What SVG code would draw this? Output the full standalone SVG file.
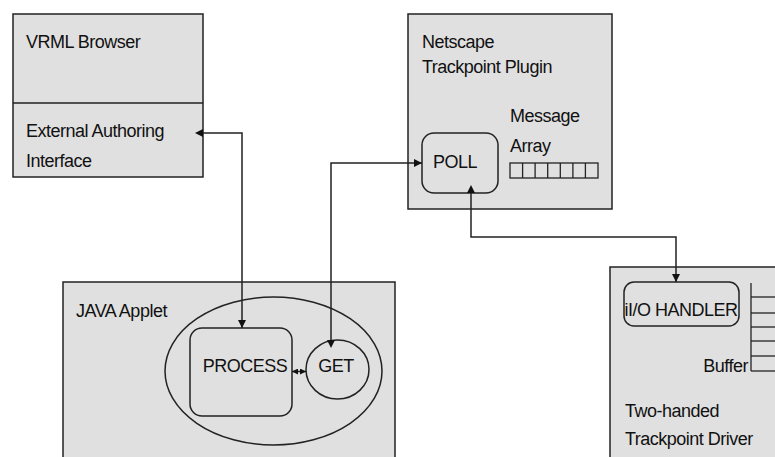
<svg xmlns="http://www.w3.org/2000/svg" width="775" height="457" viewBox="0 0 775 457">
<style>
.box{fill:#e0e0e0;stroke:#222;stroke-width:1.5}
.in{fill:none;stroke:#222;stroke-width:1.5}
.ln{fill:none;stroke:#222;stroke-width:1.3}
.cn{fill:none;stroke:#222;stroke-width:1.5}
text{font-family:"Liberation Sans",Arial,sans-serif;font-size:18px;fill:#111;letter-spacing:-0.5px}
</style>
<defs>
<marker id="ah" viewBox="0 0 10 10" refX="10" refY="5" markerWidth="8" markerHeight="8" markerUnits="userSpaceOnUse" orient="auto">
<path d="M0,0 L10,5 L0,10 z" fill="#111"/>
</marker>
<marker id="as" viewBox="0 0 10 10" refX="0" refY="5" markerWidth="8" markerHeight="8" markerUnits="userSpaceOnUse" orient="auto-start-reverse">
<path d="M0,0 L10,5 L0,10 z" fill="#111"/>
</marker>
<marker id="ah2" viewBox="0 0 10 10" refX="10" refY="5" markerWidth="6" markerHeight="6" markerUnits="userSpaceOnUse" orient="auto-start-reverse">
<path d="M0,0 L10,5 L0,10 z" fill="#111"/>
</marker>
</defs>
<g id="vrml-browser">
<rect class="box" x="13" y="14" width="190" height="163"/>
<line class="ln" x1="13" y1="103" x2="203" y2="103"/>
<text x="26" y="48">VRML Browser</text>
<text x="26" y="137">External Authoring</text>
<text x="26" y="167">Interface</text>
</g>
<g id="netscape-plugin">
<rect class="box" x="408" y="14" width="204" height="195"/>
<text x="422" y="48">Netscape</text>
<text x="422" y="73">Trackpoint Plugin</text>
<text x="510" y="122">Message</text>
<text x="510" y="152">Array</text>
<g class="ln">
<rect x="510" y="163" width="88" height="15"/>
<line x1="522.6" y1="163" x2="522.6" y2="178"/>
<line x1="535.1" y1="163" x2="535.1" y2="178"/>
<line x1="547.7" y1="163" x2="547.7" y2="178"/>
<line x1="560.3" y1="163" x2="560.3" y2="178"/>
<line x1="572.9" y1="163" x2="572.9" y2="178"/>
<line x1="585.4" y1="163" x2="585.4" y2="178"/>
</g>
</g>
<g id="poll">
<rect class="in" x="422" y="133" width="76" height="60" rx="12"/>
<text x="455" y="168" text-anchor="middle">POLL</text>
</g>
<g id="java-applet">
<rect class="box" x="63" y="282" width="332" height="180"/>
<text x="76" y="317">JAVA Applet</text>
<ellipse class="in" cx="273.5" cy="371" rx="108.5" ry="74"/>
</g>
<g id="process">
<rect class="in" x="190" y="328" width="102" height="88" rx="12"/>
<text x="245" y="372" text-anchor="middle">PROCESS</text>
</g>
<g id="get">
<ellipse class="in" cx="337.5" cy="369.5" rx="31.5" ry="29.5"/>
<text x="336" y="372" text-anchor="middle">GET</text>
</g>
<g id="trackpoint-driver">
<rect class="box" x="610" y="267" width="180" height="200"/>
<g class="ln">
<line x1="751" y1="283" x2="751" y2="371"/>
<line x1="751" y1="297" x2="780" y2="297"/>
<line x1="751" y1="313" x2="780" y2="313"/>
<line x1="751" y1="327" x2="780" y2="327"/>
<line x1="751" y1="341" x2="780" y2="341"/>
<line x1="751" y1="356" x2="780" y2="356"/>
<line x1="751" y1="371" x2="780" y2="371"/>
</g>
<text x="748" y="372" text-anchor="end">Buffer</text>
<text x="625" y="417">Two-handed</text>
<text x="625" y="445">Trackpoint Driver</text>
</g>
<g id="io-handler">
<rect class="in" x="624" y="282" width="115" height="44" rx="10"/>
<text x="681" y="316" text-anchor="middle">iI/O HANDLER</text>
</g>
<g id="connectors">
<path class="cn" d="M203,133 L242,133 L242,328" marker-start="url(#as)" marker-end="url(#ah)"/>
<path class="cn" d="M331,340 L331,163 L422,163" marker-start="url(#as)" marker-end="url(#ah)"/>
<path class="cn" d="M471,193 L471,237 L676,237 L676,282" marker-start="url(#as)" marker-end="url(#ah)"/>
<path class="cn" d="M292,371.5 L306,371.5" marker-start="url(#ah2)" marker-end="url(#ah2)"/>
</g>
</svg>
